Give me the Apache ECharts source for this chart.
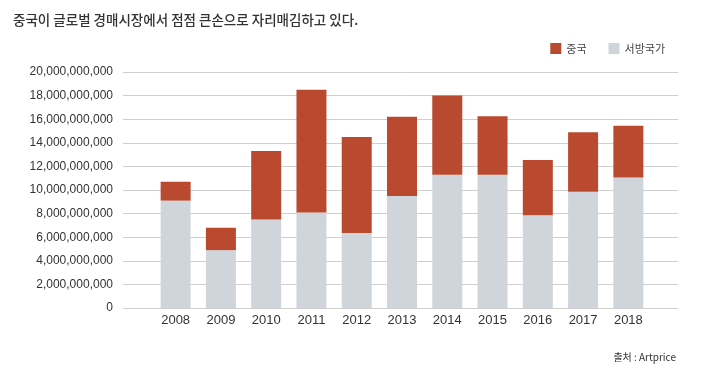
<!DOCTYPE html>
<html><head><meta charset="utf-8">
<script src="https://cdn.jsdelivr.net/npm/echarts@6/dist/echarts.min.js"></script>
<style>html,body{margin:0;padding:0;background:#fff;}#c{width:712px;height:384px;}</style>
</head><body><div id="c"></div>
<script>
const years = ['2008','2009','2010','2011','2012','2013','2014','2015','2016','2017','2018'];
const western = [9.1e9, 4.9e9, 7.5e9, 8.1e9, 6.35e9, 9.5e9, 11.3e9, 11.3e9, 7.85e9, 9.85e9, 11.05e9];
const china = [1.6e9, 1.9e9, 5.8e9, 10.4e9, 8.15e9, 6.7e9, 6.7e9, 4.95e9, 4.7e9, 5.05e9, 4.4e9];
const seriesNames = ['중국', '서방국가'];
const title = '중국이 글로벌 경매시장에서 점점 큰손으로 자리매김하고 있다.';
const source = '출처 : Artprice';
const font = '"Noto Sans CJK KR", "Noto Sans", sans-serif';
const latin = '"Liberation Sans", Arial, sans-serif';

const chart = echarts.init(document.getElementById('c'), null, {renderer: 'canvas'});
const yCommon = {type: 'value', min: 0, max: 2e10, interval: 2e9};
chart.setOption({
  backgroundColor: '#fff',
  textStyle: {fontFamily: font},
  title: [
    {text: title, left: 8, top: 8, textStyle: {fontSize: 13.5, fontWeight: 500, color: '#333', fontFamily: font}},
    {text: source, right: 31, top: 347, textStyle: {fontSize: 10, fontWeight: 'normal', color: '#333', fontFamily: font}}
  ],
  legend: {
    data: seriesNames, right: 42, top: 38, itemWidth: 11, itemHeight: 11, itemGap: 22,
    icon: 'rect', textStyle: {fontSize: 11, color: '#444', fontFamily: font}
  },
  grid: [
    {left: 123, right: 34, top: 72, bottom: 76},
    {left: 153, right: 61, top: 72, bottom: 76}
  ],
  xAxis: [
    {type: 'category', gridIndex: 0, data: years, show: false},
    {type: 'category', gridIndex: 1, data: years, boundaryGap: true,
     axisLine: {show: false}, axisTick: {show: false},
     axisLabel: {fontSize: 13, color: '#333', margin: 6, fontFamily: latin}}
  ],
  yAxis: [
    Object.assign({gridIndex: 0,
      axisLine: {show: false}, axisTick: {show: false},
      axisLabel: {fontSize: 12, color: '#333', margin: 10, fontFamily: latin,
        formatter: v => v.toLocaleString('en-US')},
      splitLine: {lineStyle: {color: '#cfcfcf', width: 1}}}, yCommon),
    Object.assign({gridIndex: 1, show: false, splitLine: {show: false}}, yCommon)
  ],
  series: [
    {name: seriesNames[1], type: 'bar', stack: 's', xAxisIndex: 1, yAxisIndex: 1, data: western,
     barWidth: 30, itemStyle: {color: '#d0d5db'}},
    {name: seriesNames[0], type: 'bar', stack: 's', xAxisIndex: 1, yAxisIndex: 1, data: china,
     barWidth: 30, itemStyle: {color: '#b94a2f'}}
  ],
  animation: false
});
</script></body></html>
